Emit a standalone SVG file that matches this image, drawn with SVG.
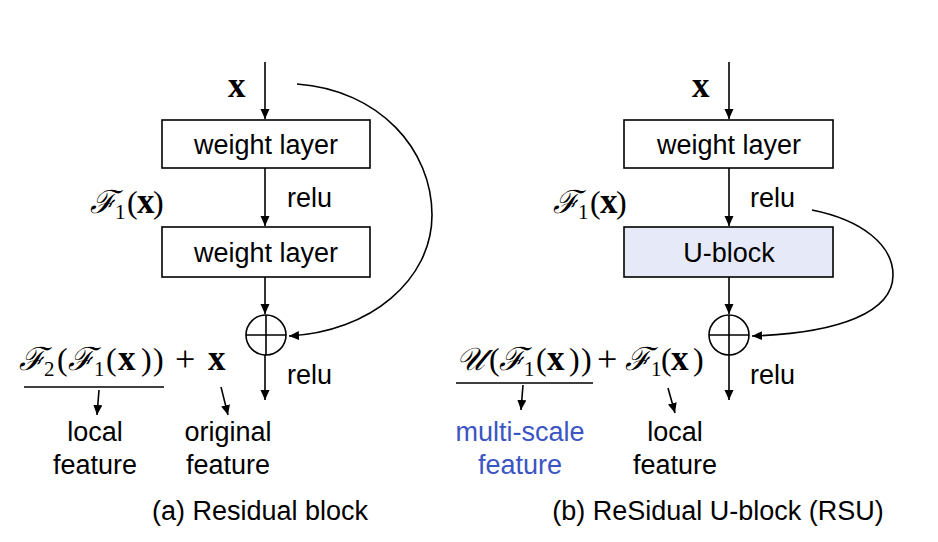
<svg xmlns="http://www.w3.org/2000/svg" width="938" height="542" viewBox="0 0 938 542">
<defs>
<marker id="ah" markerUnits="userSpaceOnUse" markerWidth="12" markerHeight="10" refX="10" refY="4.5" orient="auto">
<path d="M0,0 L10,4.5 L0,9 Z" fill="#000"/>
</marker>
<style>
.box{fill:#fff;stroke:#000;stroke-width:1.6}
.ublk{fill:#e6eaf8;stroke:#000;stroke-width:1.6}
.ln{fill:none;stroke:#000;stroke-width:1.6}
.arr{fill:none;stroke:#000;stroke-width:1.6;marker-end:url(#ah)}
.t{font-family:"Liberation Sans",Arial,sans-serif;font-size:27px;fill:#000}
.c{text-anchor:middle}
.m{font-family:"Liberation Serif","DejaVu Serif",serif;font-size:32px;fill:#000}
.s{font-size:21px}
.b{font-weight:bold;font-size:35px}
.i{font-style:italic}
.p{font-size:36px}
.blue{fill:#3b55c4}
</style>
</defs>
<rect width="938" height="542" fill="#fff"/>

<g id="connectors">
<line class="arr" x1="265" y1="62" x2="265" y2="119"/>
<line class="arr" x1="265" y1="168" x2="265" y2="226"/>
<line class="arr" x1="265" y1="277" x2="265" y2="314"/>
<line class="arr" x1="265" y1="355" x2="265" y2="400"/>
<path class="arr" d="M297,84 C380,90 432,150 432,215 C432,280 370,332 289,336"/>
<line class="ln" x1="24" y1="387" x2="164" y2="387"/>
<line class="arr" x1="99" y1="390" x2="97" y2="415"/>
<line class="arr" x1="221" y1="387" x2="228" y2="415"/>

<line class="arr" x1="729" y1="62" x2="729" y2="119"/>
<line class="arr" x1="729" y1="168" x2="729" y2="226"/>
<line class="arr" x1="729" y1="277" x2="729" y2="314"/>
<line class="arr" x1="729" y1="355" x2="729" y2="400"/>
<path class="arr" d="M812,210 C862,220 893,245 893,275 C893,312 840,333 752,336"/>
<line class="ln" x1="456" y1="383" x2="593" y2="383"/>
<line class="arr" x1="523" y1="385" x2="521" y2="410"/>
<line class="arr" x1="668" y1="388" x2="675" y2="413"/>
</g>

<g id="left-x"><text class="m b" x="228" y="97">x</text></g>
<g id="left-wl1"><rect class="box" x="162" y="120" width="208" height="48"/><text class="t c" x="266" y="154">weight layer</text></g>
<g id="left-f1"><text class="m"><tspan class="i" x="90" y="213">ℱ</tspan><tspan class="s" x="115" y="219">1</tspan><tspan x="127" y="213">(</tspan><tspan class="b" x="137" y="213">x</tspan><tspan x="153" y="213">)</tspan></text></g>
<g id="left-relu1"><text class="t" x="287" y="207">relu</text></g>
<g id="left-wl2"><rect class="box" x="162" y="227" width="208" height="50"/><text class="t c" x="266" y="262">weight layer</text></g>
<g id="left-sum"><circle class="ln" cx="266" cy="335" r="20"/><line class="ln" x1="246" y1="335" x2="286" y2="335"/><line class="ln" x1="266" y1="315" x2="266" y2="355"/></g>
<g id="left-relu2"><text class="t" x="287" y="384">relu</text></g>
<g id="left-eq"><text class="m"><tspan class="i" x="19" y="370">ℱ</tspan><tspan class="s" x="44" y="376">2</tspan><tspan x="57" y="370">(</tspan><tspan class="i" x="68" y="370">ℱ</tspan><tspan class="s" x="94" y="376">1</tspan><tspan x="106" y="370">(</tspan><tspan class="b" x="118" y="370">x</tspan><tspan x="141" y="370">)</tspan><tspan x="153" y="370">)</tspan><tspan class="p" x="175" y="371">+</tspan><tspan class="b" x="208" y="370">x</tspan></text></g>
<g id="left-local"><text class="t c" x="95" y="441">local</text><text class="t c" x="95" y="474">feature</text></g>
<g id="left-orig"><text class="t c" x="228" y="441">original</text><text class="t c" x="228" y="474">feature</text></g>
<g id="left-cap"><text class="t c" x="260" y="520">(a) Residual block</text></g>

<g id="right-x"><text class="m b" x="692" y="97">x</text></g>
<g id="right-wl1"><rect class="box" x="624" y="120" width="209" height="48"/><text class="t c" x="729" y="154">weight layer</text></g>
<g id="right-f1"><text class="m"><tspan class="i" x="553" y="213">ℱ</tspan><tspan class="s" x="578" y="219">1</tspan><tspan x="590" y="213">(</tspan><tspan class="b" x="600" y="213">x</tspan><tspan x="616" y="213">)</tspan></text></g>
<g id="right-relu1"><text class="t" x="750" y="207">relu</text></g>
<g id="right-ublock"><rect class="ublk" x="624" y="227" width="209" height="50"/><text class="t c" x="729" y="262">U-block</text></g>
<g id="right-sum"><circle class="ln" cx="729" cy="335" r="20"/><line class="ln" x1="709" y1="335" x2="749" y2="335"/><line class="ln" x1="729" y1="315" x2="729" y2="355"/></g>
<g id="right-relu2"><text class="t" x="750" y="384">relu</text></g>
<g id="right-eq"><text class="m"><tspan class="i" x="456" y="370">𝒰</tspan><tspan x="489" y="370">(</tspan><tspan class="i" x="499" y="370">ℱ</tspan><tspan class="s" x="524" y="376">1</tspan><tspan x="536" y="370">(</tspan><tspan class="b" x="547" y="370">x</tspan><tspan x="569" y="370">)</tspan><tspan x="581" y="370">)</tspan><tspan class="p" x="597" y="371">+</tspan><tspan class="i" x="625" y="370">ℱ</tspan><tspan class="s" x="651" y="376">1</tspan><tspan x="661" y="370">(</tspan><tspan class="b" x="671" y="370">x</tspan><tspan x="693" y="370">)</tspan></text></g>
<g id="right-ms"><text class="t c blue" x="520" y="441">multi-scale</text><text class="t c blue" x="520" y="474">feature</text></g>
<g id="right-local"><text class="t c" x="675" y="441">local</text><text class="t c" x="675" y="474">feature</text></g>
<g id="right-cap"><text class="t c" x="718" y="520">(b) ReSidual U-block (RSU)</text></g>
</svg>
